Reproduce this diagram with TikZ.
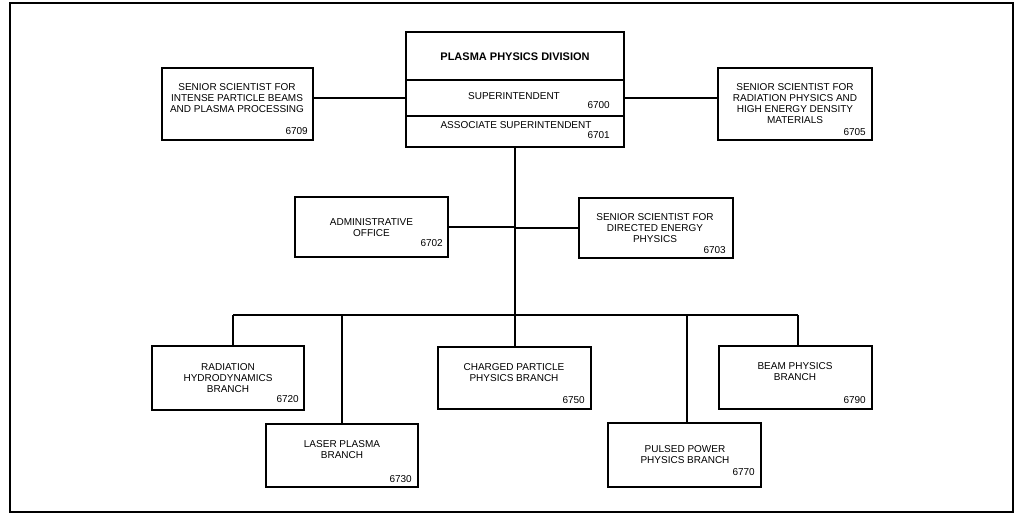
\documentclass[tikz,border=0pt]{standalone}
\usepackage{fontspec}
\setmainfont{Liberation Sans}

\tikzset{
    box/.style={draw, line width=1.8pt, minimum width=153pt, minimum height=63pt, inner sep=0pt},
    txt/.style={align=center, inner sep=0pt, font=\fontsize{10}{11}\selectfont},
    num/.style={anchor=east, inner sep=0pt, font=\fontsize{10}{11}\selectfont},
    wire/.style={line width=1.8pt},
}

\begin{document}
\begin{tikzpicture}[x=1pt,y=-1pt]
    \useasboundingbox (0,0) rectangle (1016,514);
    \draw[line width=1.8pt] (10,3) rectangle (1013,512);

    % division head
    \node[box, minimum width=218pt, minimum height=48pt] (div) at (515,56) {};
        \node[txt, font=\fontsize{11}{12}\bfseries] (div-t) at (515,57) {PLASMA PHYSICS DIVISION};
    \node[box, minimum width=218pt, minimum height=36pt] (sup) at (515,98) {};
        \node[txt] (sup-t) at (514,96) {SUPERINTENDENT};
        \node[num] (sup-n) at (610,105) {6700};
    \node[box, minimum width=218pt, minimum height=31pt] (asup) at (515,131.5) {};
        \node[txt] (asup-t) at (516,125) {ASSOCIATE SUPERINTENDENT};
        \node[num] (asup-n) at (610,135) {6701};

    % senior scientists
    \node[box, minimum width=151pt, minimum height=72pt] (ipb) at (237.5,104) {};
        \node[txt] (ipb-t) at (237,98) {SENIOR SCIENTIST FOR\\INTENSE PARTICLE BEAMS\\AND PLASMA PROCESSING};
        \node[num] (ipb-n) at (308,131) {6709};
    \node[box, minimum width=154pt, minimum height=72pt] (rad) at (795,104) {};
        \node[txt] (rad-t) at (795,103.5) {SENIOR SCIENTIST FOR\\RADIATION PHYSICS AND\\HIGH ENERGY DENSITY\\MATERIALS};
        \node[num] (rad-n) at (866,132) {6705};

    \draw[wire] (sup.west) -- (sup.west -| ipb.east);
    \draw[wire] (sup.east) -- (sup.east -| rad.west);

    % staff
    \node[box, minimum width=153pt, minimum height=60pt] (adm) at (371.5,227) {};
        \node[txt] (adm-t) at (371.5,227.5) {ADMINISTRATIVE\\OFFICE};
        \node[num] (adm-n) at (443,243) {6702};
    \node[box, minimum width=154pt, minimum height=60pt] (dep) at (656,228) {};
        \node[txt] (dep-t) at (655,228) {SENIOR SCIENTIST FOR\\DIRECTED ENERGY\\PHYSICS};
        \node[num] (dep-n) at (726,250) {6703};

    % branches
    \node[box, minimum width=152pt, minimum height=64pt] (rhb) at (228,378) {};
        \node[txt] (rhb-t) at (228,378) {RADIATION\\HYDRODYNAMICS\\BRANCH};
        \node[num] (rhb-n) at (299,399) {6720};
    \node[box, minimum width=152pt, minimum height=63pt] (lpb) at (342,455.5) {};
        \node[txt] (lpb-t) at (342,449.5) {LASER PLASMA\\BRANCH};
        \node[num] (lpb-n) at (412,479) {6730};
    \node[box, minimum width=153pt, minimum height=62pt] (cpb) at (514.5,378) {};
        \node[txt] (cpb-t) at (514,372.5) {CHARGED PARTICLE\\PHYSICS BRANCH};
        \node[num] (cpb-n) at (585,400) {6750};
    \node[box, minimum width=153pt, minimum height=64pt] (ppb) at (684.5,455) {};
        \node[txt] (ppb-t) at (685,454.5) {PULSED POWER\\PHYSICS BRANCH};
        \node[num] (ppb-n) at (755,472) {6770};
    \node[box, minimum width=153pt, minimum height=63pt] (bpb) at (795.5,377.5) {};
        \node[txt] (bpb-t) at (795,371.5) {BEAM PHYSICS\\BRANCH};
        \node[num] (bpb-n) at (866,400) {6790};

    % trunk and bar
    \coordinate (b1) at (233,315);
    \coordinate (b2) at (342,315);
    \coordinate (b3) at (515,315);
    \coordinate (b4) at (687,315);
    \coordinate (b5) at (798,315);
    \draw[wire] (asup.south) -- (b3);
    \draw[wire] (adm.east) -- (adm.east -| asup.south);
    \draw[wire] (dep.west) -- (dep.west -| asup.south);
    \draw[wire] (b1) -- (b5);
    \draw[wire] (b1) -- (b1 |- rhb.north);
    \draw[wire] (b2) -- (b2 |- lpb.north);
    \draw[wire] (b3) -- (b3 |- cpb.north);
    \draw[wire] (b4) -- (b4 |- ppb.north);
    \draw[wire] (b5) -- (b5 |- bpb.north);
\end{tikzpicture}
\end{document}
